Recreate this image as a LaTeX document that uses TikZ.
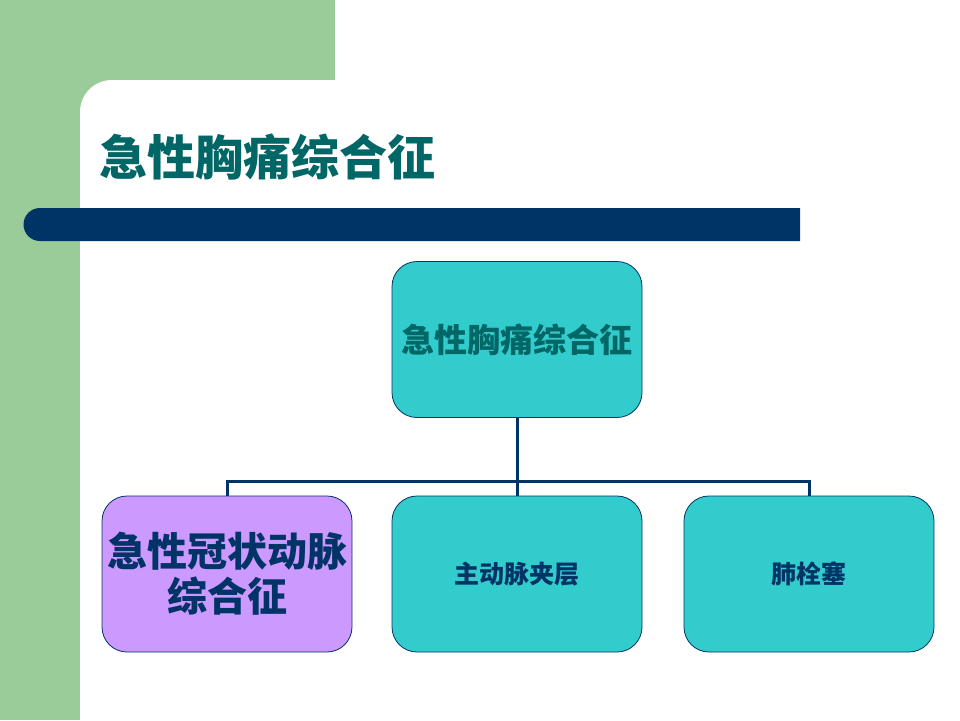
\documentclass[tikz,border=0pt]{standalone}
\usepackage{fontspec}
\newfontfamily\cjk{Noto Sans CJK SC}
\definecolor{sidegreen}{HTML}{99CC99}
\definecolor{navy}{HTML}{003366}
\definecolor{titleteal}{HTML}{006666}
\definecolor{boxcyan}{HTML}{33CCCC}
\definecolor{boxpurple}{HTML}{CC99FF}
\tikzset{
  orgbox/.style={draw=navy, line width=0.8pt, rounded corners=25pt, minimum width=250pt, minimum height=156pt, inner sep=0pt, align=center, font=\cjk\bfseries},
  link/.style={draw=navy, line width=3pt}
}
\begin{document}
\begin{tikzpicture}[x=1pt,y=-1pt]
\useasboundingbox (0,0) rectangle (960,720);
% background
\fill[white] (0,0) rectangle (960,720);
\fill[sidegreen] (0,0) rectangle (335,200);
\fill[sidegreen] (0,0) rectangle (80,720);
\fill[white, rounded corners=32pt] (80,80) rectangle (1000,800);
% bar
\fill[navy] (800,208) -- (40,208) arc[start angle=270, end angle=90, radius=16.5] -- (800,241) -- cycle;
% title
\node[anchor=west, inner sep=0pt, text=titleteal, font=\cjk\bfseries\fontsize{48}{56}\selectfont] (title) at (99,157) {急性胸痛综合征};
% boxes
\node[orgbox, fill=boxcyan, text=titleteal, font=\cjk\bfseries\fontsize{33}{38}\selectfont] (top) at (517,339.5) {急性胸痛综合征};
\node[orgbox, fill=boxpurple, text=navy, font=\cjk\bfseries\fontsize{40}{45}\selectfont] (acs) at (227,574) {急性冠状动脉\\综合征};
\node[orgbox, fill=boxcyan, text=navy, font=\cjk\bfseries\fontsize{25}{30}\selectfont] (ad) at (517,574) {主动脉夹层};
\node[orgbox, fill=boxcyan, text=navy, font=\cjk\bfseries\fontsize{25}{30}\selectfont] (pe) at (809,574) {肺栓塞};
% connectors
\coordinate (hub) at (517,481);
\draw[link] (top.south) -- (hub);
\draw[link] (acs.north) -- (acs.north |- hub) -- (pe.north |- hub) -- (pe.north);
\draw[link] (hub) -- (ad.north);
\end{tikzpicture}
\end{document}
